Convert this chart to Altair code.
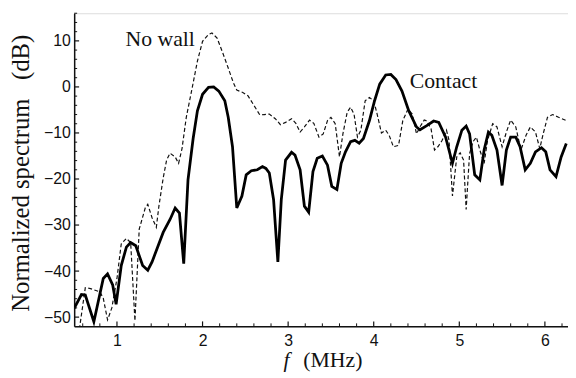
import altair as alt
import pandas as pd

# Contact (solid)
contact_f = [0.50, 0.585, 0.63, 0.73, 0.84, 0.89, 0.95, 0.99, 1.05, 1.11, 1.16, 1.22, 1.30, 1.36, 1.41,
             1.54, 1.62, 1.68, 1.73, 1.78, 1.83, 1.89, 1.94, 2.00, 2.07, 2.13, 2.19, 2.26, 2.30, 2.35,
             2.40, 2.46, 2.51, 2.57, 2.64, 2.70, 2.74, 2.78, 2.83, 2.88, 2.92, 2.97, 3.04, 3.08, 3.14,
             3.19, 3.24, 3.29, 3.34, 3.40, 3.46, 3.51, 3.57, 3.62, 3.67, 3.73, 3.78, 3.83, 3.88, 3.95,
             4.01, 4.07, 4.14, 4.20, 4.26, 4.33, 4.41, 4.50, 4.54, 4.62, 4.70, 4.76, 4.84, 4.92, 4.97,
             5.03, 5.08, 5.12, 5.18, 5.24, 5.29, 5.34, 5.38, 5.44, 5.50, 5.55, 5.60, 5.66, 5.71, 5.77,
             5.83, 5.89, 5.96, 6.01, 6.06, 6.13, 6.19, 6.25]
contact_db = [-48.1, -45.1, -45.2, -51.0, -41.6, -40.6, -43.0, -47.2, -38.8, -34.8, -33.8, -34.5, -38.8, -39.8, -38.0,
              -31.6, -28.8, -26.3, -27.4, -38.4, -20.2, -11.2, -5.2, -1.6, -0.1, 0.0, -0.9, -3.0, -6.6, -13.0,
              -26.3, -23.7, -19.1, -18.2, -18.0, -17.3, -17.7, -18.7, -24.5, -38.0, -24.5, -15.9, -14.2, -14.8, -18.0,
              -25.9, -27.2, -18.4, -15.5, -15.0, -17.0, -21.6, -22.3, -16.6, -14.1, -11.9, -11.6, -12.2, -11.2, -7.3,
              -3.0, 0.6, 2.6, 2.7, 1.6, -0.9, -5.2, -8.7, -9.3, -8.4, -7.4, -7.7, -10.9, -16.6, -13.0,
              -9.4, -8.5, -10.2, -19.1, -20.2, -13.7, -9.8, -10.5, -13.7, -21.4, -13.7, -10.9, -10.9, -13.0, -18.0,
              -16.6, -14.1, -13.2, -14.1, -18.0, -19.5, -15.2, -12.3]

# No wall (dashed)
nowall_f = [0.55, 0.63, 0.69, 0.80, 0.84, 0.89, 0.94, 1.00, 1.05, 1.11, 1.16, 1.21, 1.26, 1.33, 1.36,
            1.41, 1.46, 1.49, 1.54, 1.58, 1.62, 1.68, 1.72, 1.76, 1.81, 1.88, 1.94, 2.00, 2.07, 2.11,
            2.17, 2.23, 2.30, 2.36, 2.40, 2.47, 2.53, 2.59, 2.67, 2.72, 2.78, 2.85, 2.91, 2.97, 3.04,
            3.09, 3.14, 3.19, 3.25, 3.30, 3.36, 3.41, 3.46, 3.50, 3.55, 3.60, 3.64, 3.69, 3.73, 3.77,
            3.81, 3.85, 3.90, 3.95, 4.00, 4.04, 4.09, 4.14, 4.18, 4.23, 4.29, 4.34, 4.40, 4.45, 4.50,
            4.54, 4.59, 4.62, 4.67, 4.71, 4.75, 4.80, 4.85, 4.88, 4.92, 4.97, 5.01, 5.05, 5.08, 5.12,
            5.16, 5.20, 5.24, 5.29, 5.33, 5.39, 5.44, 5.50, 5.55, 5.60, 5.66, 5.72, 5.78, 5.83, 5.89,
            5.94, 5.98, 6.03, 6.09, 6.16, 6.25]
nowall_db = [-54.0, -43.6, -43.8, -44.5, -45.9, -50.6, -48.0, -41.6, -34.1, -32.9, -33.8, -50.8, -30.9, -26.3, -25.5,
             -28.4, -30.5, -25.9, -19.8, -15.9, -14.4, -15.2, -16.6, -13.4, -6.6, -0.1, 5.6, 9.9, 11.4, 11.7,
             10.6, 7.7, 4.1, 0.9, -0.7, -1.2, -1.9, -3.7, -6.1, -6.0, -5.9, -6.9, -8.2, -7.7, -6.9,
             -7.9, -9.8, -8.7, -7.2, -7.9, -10.9, -10.2, -7.3, -6.6, -8.0, -15.2, -10.2, -5.5, -4.4, -5.9,
             -10.9, -9.4, -3.0, -2.3, -3.0, -5.9, -10.0, -9.4, -10.5, -13.0, -12.7, -7.3, -4.8, -5.9, -10.2,
             -8.7, -7.2, -7.4, -9.1, -13.7, -13.0, -11.6, -9.4, -11.6, -23.7, -15.2, -14.3, -15.9, -26.6, -14.5,
             -11.9, -10.9, -13.7, -16.6, -11.6, -8.0, -8.7, -13.0, -9.8, -7.2, -8.7, -13.7, -10.5, -8.7, -9.8,
             -13.4, -10.2, -6.6, -6.0, -6.6, -7.3]

x_major = [1, 2, 3, 4, 5, 6]
x_minor = [0.6, 0.8, 1.2, 1.4, 1.6, 1.8, 2.2, 2.4, 2.6, 2.8, 3.2, 3.4, 3.6, 3.8,
           4.2, 4.4, 4.6, 4.8, 5.2, 5.4, 5.6, 5.8, 6.2]
y_major = [-50, -40, -30, -20, -10, 0, 10]
y_minor = [-48, -46, -44, -42, -38, -36, -34, -32, -28, -26, -24, -22, -18, -16, -14, -12,
           -8, -6, -4, -2, 2, 4, 6, 8, 12, 14, 16]

W, H = 500, 317
xs = alt.Scale(domain=[0.5, 6.27], nice=False, zero=False)
ys = alt.Scale(domain=[-52, 16], nice=False, zero=False)

ink = "#111111"
SERIF = "Times New Roman, Liberation Serif, serif"
SANS = "Arial, Liberation Sans, sans-serif"

xaxis = alt.Axis(values=x_major, format="d", ticks=False, grid=False, labelFont=SANS,
                 labelFontSize=16, labelColor=ink, labelPadding=6, domainColor=ink, domainWidth=1.5,
                 title=None, labelFlush=False)
yaxis = alt.Axis(values=y_major, format="d", ticks=False, grid=False, labelFont=SANS,
                 labelFontSize=16, labelColor=ink, labelPadding=4, domainColor=ink, domainWidth=1.5,
                 title=None, labelFlush=False)


def X(field):
    return alt.X(field, scale=xs, axis=xaxis)


def Y(field):
    return alt.Y(field, scale=ys, axis=yaxis)


df_c = pd.DataFrame({"f": contact_f, "db": contact_db})
df_n = pd.DataFrame({"f": nowall_f, "db": nowall_db})

nowall = alt.Chart(df_n).mark_line(color=ink, strokeWidth=1.2, strokeDash=[4, 2.5], clip=True).encode(
    x=X("f:Q"), y=Y("db:Q"))
contact = alt.Chart(df_c).mark_line(color="#000000", strokeWidth=2.8, clip=True).encode(
    x=X("f:Q"), y=Y("db:Q"))

xt_major = alt.Chart(pd.DataFrame({"f": x_major})).mark_rule(color=ink, strokeWidth=1.2).encode(
    x=X("f:Q"), y=alt.value(H), y2=alt.value(H - 5))
xt_minor = alt.Chart(pd.DataFrame({"f": x_minor})).mark_rule(color=ink, strokeWidth=1).encode(
    x=X("f:Q"), y=alt.value(H), y2=alt.value(H - 3))
yt_major = alt.Chart(pd.DataFrame({"db": y_major})).mark_rule(color=ink, strokeWidth=1.2).encode(
    y=Y("db:Q"), x=alt.value(0), x2=alt.value(5))
yt_minor = alt.Chart(pd.DataFrame({"db": y_minor})).mark_rule(color=ink, strokeWidth=1).encode(
    y=Y("db:Q"), x=alt.value(0), x2=alt.value(3))

labels_df = pd.DataFrame({"f": [1.10, 4.42], "db": [8.8, -0.2], "t": ["No wall", "Contact"]})
annot = alt.Chart(labels_df).mark_text(font=SERIF, fontSize=22, align="left",
                                       baseline="alphabetic", color=ink).encode(
    x=X("f:Q"), y=Y("db:Q"), text="t:N")

ytitle = alt.Chart(pd.DataFrame({"t": ["Normalized\u00a0spectrum\u00a0\u00a0\u00a0(dB)"]})).mark_text(
    font=SERIF, fontSize=25, angle=270, align="center", baseline="alphabetic", color=ink
).encode(x=alt.value(-46), y=alt.value(162), text="t:N")

xtitle_f = alt.Chart(pd.DataFrame({"t": ["f"]})).mark_text(
    font=SERIF, fontSize=22, fontStyle="italic", align="left", baseline="alphabetic", color=ink
).encode(x=alt.value(212), y=alt.value(358), text="t:N")
xtitle_u = alt.Chart(pd.DataFrame({"t": ["(MHz)"]})).mark_text(
    font=SERIF, fontSize=22, align="left", baseline="alphabetic", color=ink
).encode(x=alt.value(232), y=alt.value(358), text="t:N")

chart = alt.layer(nowall, contact, xt_major, xt_minor, yt_major, yt_minor, annot, ytitle, xtitle_f, xtitle_u).properties(
    width=W, height=H,
    autosize=alt.AutoSizeParams(type="none"),
    padding={"left": 67, "top": 3, "right": 0, "bottom": 50},
).configure_view(stroke=None).configure(background="white")

chart.save("out.html", embed_options={"renderer": "svg", "actions": False})
